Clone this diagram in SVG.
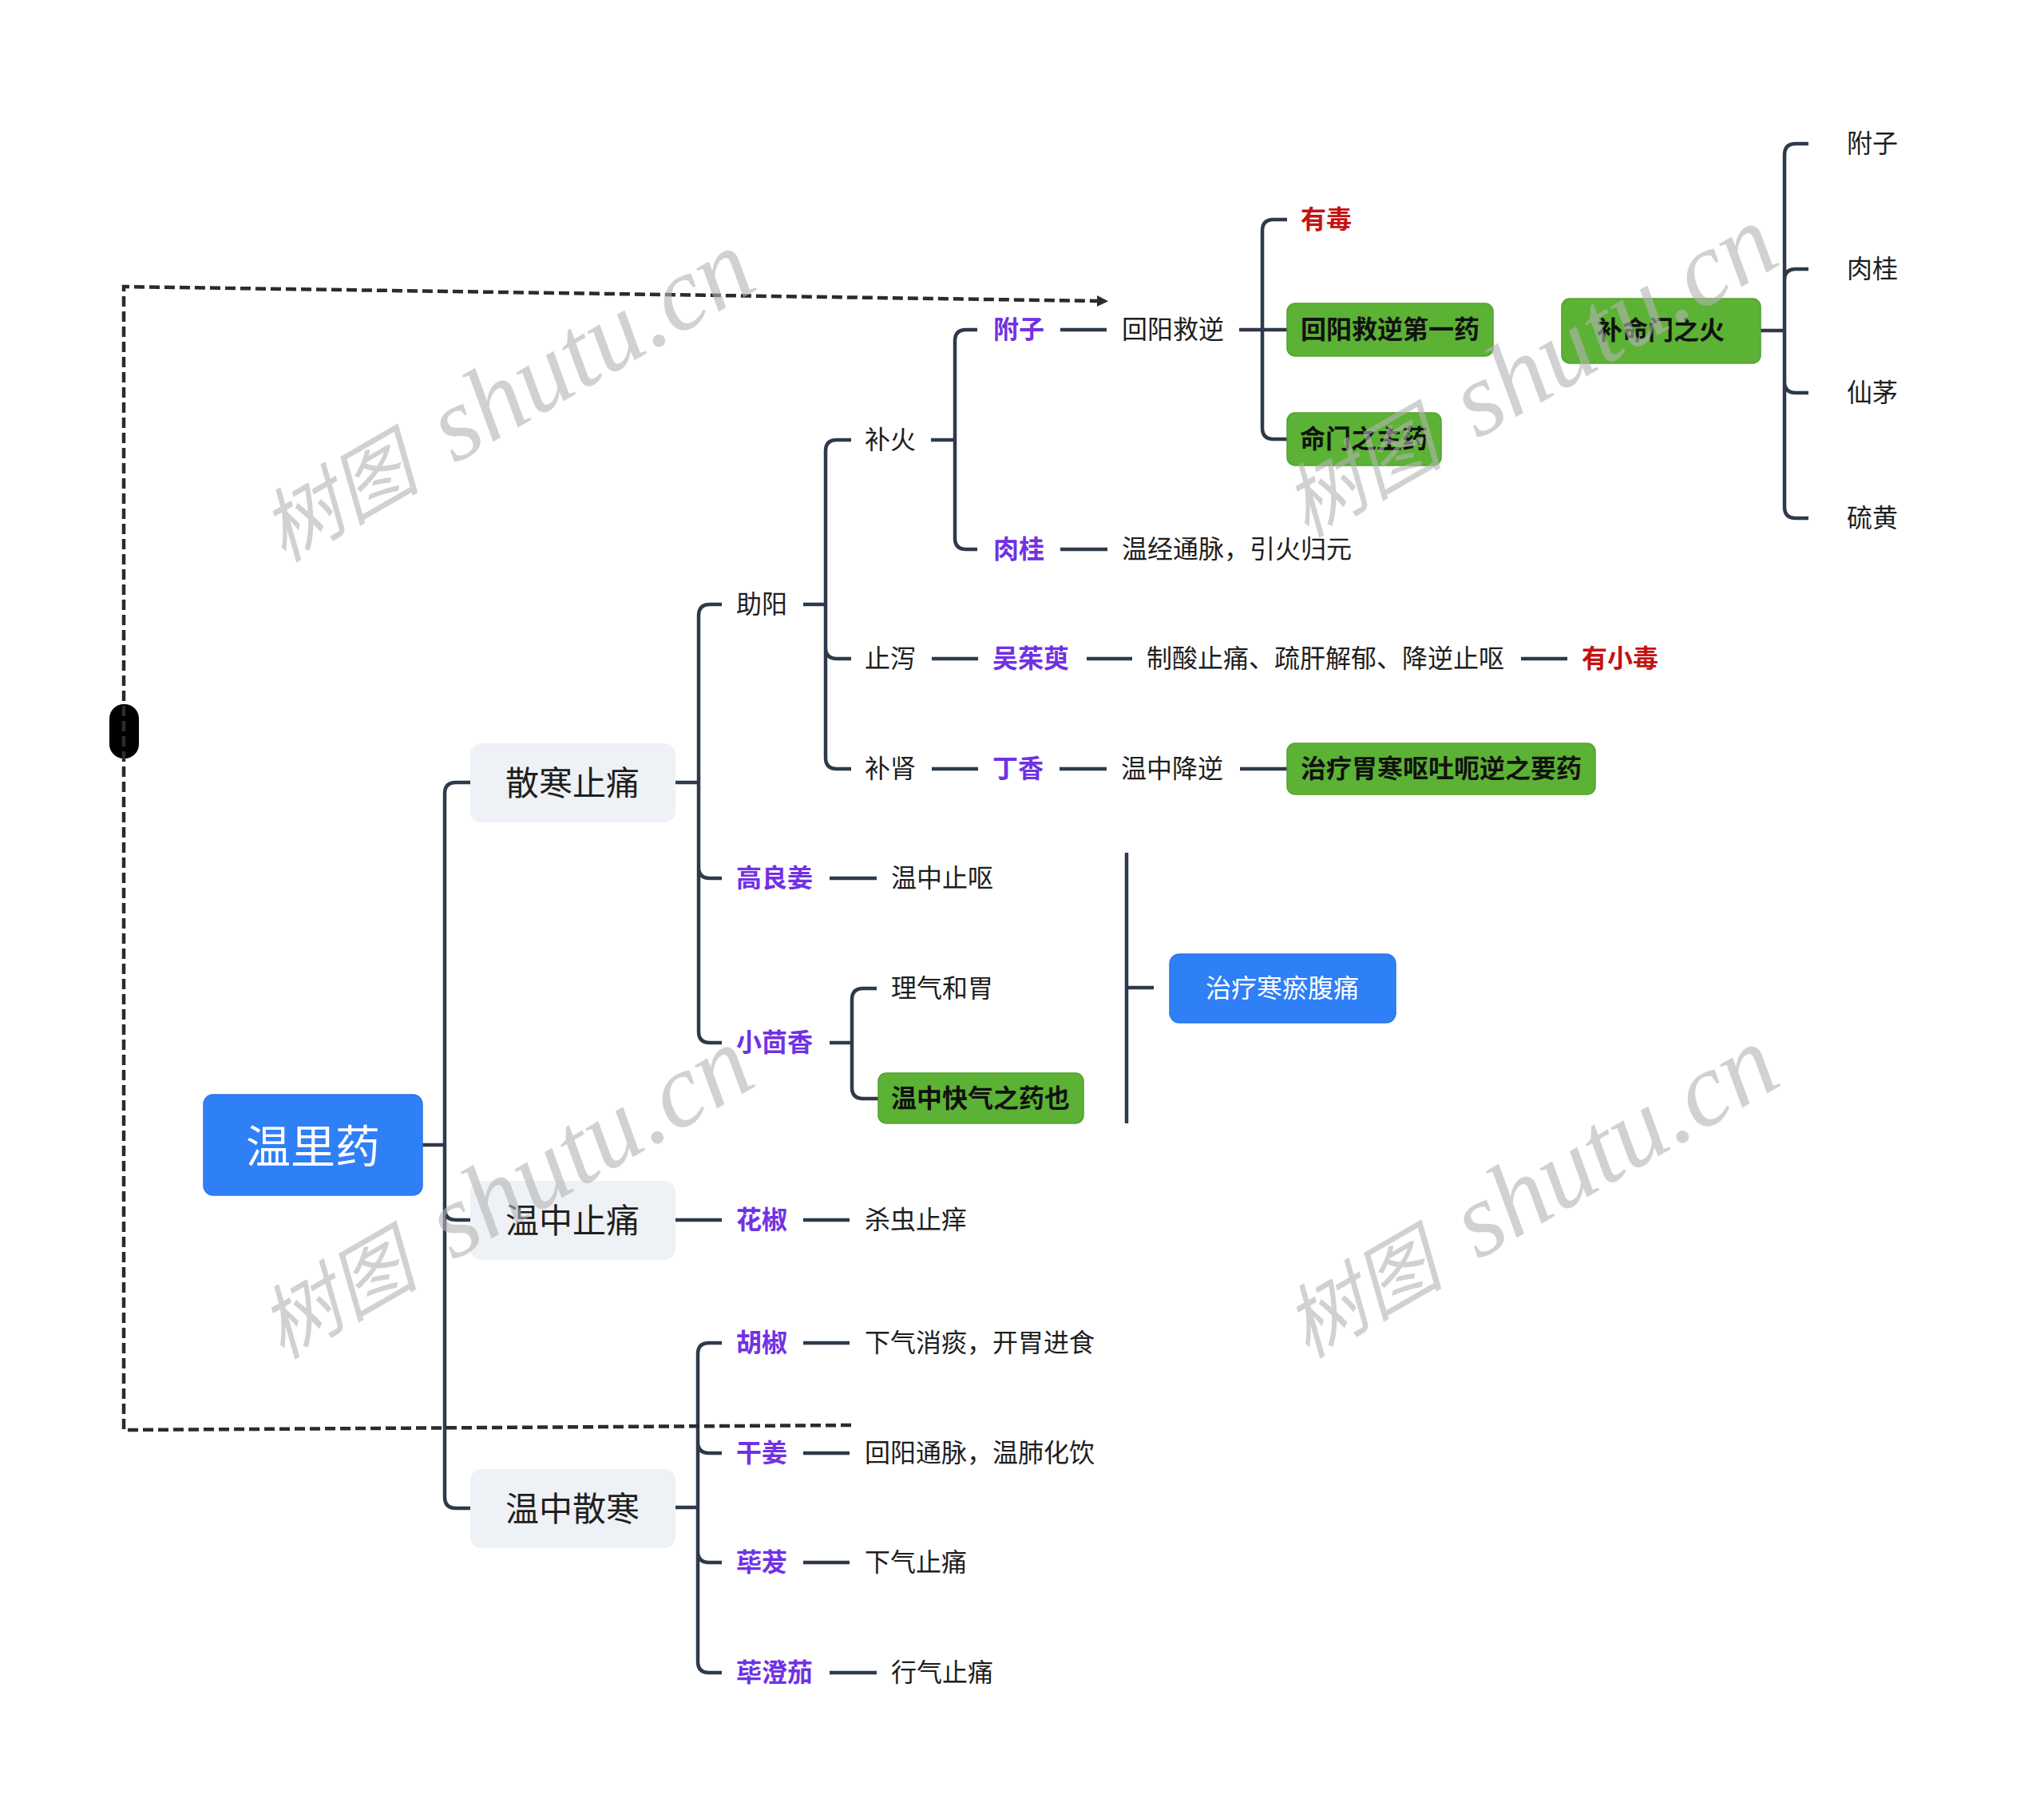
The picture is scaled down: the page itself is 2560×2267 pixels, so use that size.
<svg xmlns="http://www.w3.org/2000/svg" width="2560" height="2267" viewBox="0 0 2560 2267">
<style>
.ln{fill:none;stroke:#2e3a4b;stroke-width:4.5;stroke-linecap:butt;stroke-linejoin:round}
.dl{fill:none;stroke:#2b2b2b;stroke-width:4.5;stroke-dasharray:13 6}
.t{font-family:"Noto Sans CJK SC","Noto Sans",sans-serif;font-size:32px;fill:#1e1e1e;dominant-baseline:central;transform:translateY(-3px)}
.p{fill:#7131e4;font-weight:700}
.r{fill:#c41212;font-weight:700}
.c{text-anchor:middle}
.bd{font-weight:700;fill:#111}
.l1{font-size:42px;fill:#1f1f1f}
.w{fill:#ffffff}
.gbox{fill:#5cb234;stroke:#51a12d;stroke-width:1.5}
.gray{fill:#eef1f5}
.blue{fill:#2f7ff7;stroke:#2b75e8;stroke-width:1.5}
.wm{font-family:"Noto Sans CJK SC",serif;font-style:italic;fill:#b4b4b4;opacity:0.6}
.wml{font-family:"Liberation Serif",serif;font-style:italic}
</style>
<defs>
<marker id="arr" viewBox="0 0 10 10" refX="0" refY="5" markerWidth="14" markerHeight="14" markerUnits="userSpaceOnUse" orient="auto">
<path d="M0 0 L10 5 L0 10 z" fill="#2b2b2b"/>
</marker>
</defs>
<rect width="2560" height="2267" fill="#ffffff"/>

<g id="connectors">
<path class="ln" d="M529 1434 H557 M557 1434 V994 Q557 980 571 980 H589 M557 1434 V1514 Q557 1528 571 1528 H589 M557 1434 V1875 Q557 1889 571 1889 H589"/>
<path class="ln" d="M846 980 H875 M875 980 V771 Q875 757 889 757 H904 M875 980 V1086 Q875 1100 889 1100 H904 M875 980 V1292 Q875 1306 889 1306 H904"/>
<path class="ln" d="M1006 757 H1034 M1034 757 V565 Q1034 551 1048 551 H1066 M1034 757 V811 Q1034 825 1048 825 H1066 M1034 757 V949 Q1034 963 1048 963 H1066"/>
<path class="ln" d="M1166 551 H1196 M1196 551 V427 Q1196 413 1210 413 H1224 M1196 551 V674 Q1196 688 1210 688 H1224"/>
<path class="ln" d="M1328 413 H1386 M1552 413 H1612 M1581 413 V289 Q1581 275 1595 275 H1612 M1581 413 V536 Q1581 550 1595 550 H1612"/>
<path class="ln" d="M1328 688 H1387"/>
<path class="ln" d="M2205 414 H2235 M2235 414 V194 Q2235 180 2249 180 H2265 M2235 414 V351 Q2235 337 2249 337 H2265 M2235 414 V478 Q2235 492 2249 492 H2265 M2235 414 V635 Q2235 649 2249 649 H2265"/>
<path class="ln" d="M1167 825 H1225 M1361 825 H1418 M1905 825 H1963"/>
<path class="ln" d="M1167 963 H1225 M1327 963 H1386 M1553 963 H1612"/>
<path class="ln" d="M1039 1100 H1098"/>
<path class="ln" d="M1039 1306 H1067 M1067 1306 V1252 Q1067 1238 1081 1238 H1098 M1067 1306 V1362 Q1067 1376 1081 1376 H1100"/>
<path class="ln" d="M1411 1068 V1407 M1411 1237 H1445"/>
<path class="ln" d="M846 1528 H904 M1006 1528 H1064"/>
<path class="ln" d="M846 1888 H874 M874 1888 V1696 Q874 1682 888 1682 H904 M874 1888 V1806 Q874 1820 888 1820 H904 M874 1888 V1943 Q874 1957 888 1957 H904 M874 1888 V2081 Q874 2095 888 2095 H904"/>
<path class="ln" d="M1006 1682 H1064 M1006 1820 H1064 M1006 1957 H1064 M1039 2095 H1098"/>
<rect x="137" y="882" width="37" height="68" rx="18" fill="#000000"/>
<path class="dl" d="M1066 1785 L155 1791 L155 359 L1374 377" marker-end="url(#arr)"/>
</g>

<g id="n-root"><rect class="blue" x="255" y="1371" width="274" height="126" rx="12"/><text class="t c w" x="392" y="1434" style="font-size:56px">温里药</text></g>

<g id="n-sanhan"><rect class="gray" x="589" y="931" width="257" height="99" rx="14"/><text class="t c l1" x="717" y="980">散寒止痛</text></g>
<g id="n-wenzhongzhitong"><rect class="gray" x="589" y="1479" width="257" height="99" rx="14"/><text class="t c l1" x="717" y="1528">温中止痛</text></g>
<g id="n-wenzhongsanhan"><rect class="gray" x="589" y="1840" width="257" height="99" rx="14"/><text class="t c l1" x="717" y="1889">温中散寒</text></g>

<g id="n-zhuyang"><text class="t" x="922" y="757">助阳</text></g>
<g id="n-buhuo"><text class="t" x="1083" y="551">补火</text></g>
<g id="n-zhixie"><text class="t" x="1083" y="825">止泻</text></g>
<g id="n-bushen"><text class="t" x="1083" y="963">补肾</text></g>

<g id="n-fuzi"><text class="t p" x="1244" y="413">附子</text></g>
<g id="n-huiyang"><text class="t" x="1405" y="413">回阳救逆</text></g>
<g id="n-youdu"><text class="t r" x="1629" y="275">有毒</text></g>
<g id="n-diyi"><rect class="gbox" x="1612" y="380" width="258" height="66" rx="10"/><text class="t c bd" x="1741" y="413">回阳救逆第一药</text></g>
<g id="n-mingmen"><rect class="gbox" x="1612" y="517" width="193" height="66" rx="10"/><text class="t c bd" x="1708" y="550">命门之主药</text></g>

<g id="n-rougui"><text class="t p" x="1244" y="688">肉桂</text></g>
<g id="n-wenjing"><text class="t" x="1405" y="688">温经通脉，引火归元</text></g>

<g id="n-buming"><rect class="gbox" x="1956" y="374" width="249" height="81" rx="10"/><text class="t c bd" x="2080" y="414">补命门之火</text></g>
<g id="n-b-fuzi"><text class="t" x="2313" y="180">附子</text></g>
<g id="n-b-rougui"><text class="t" x="2313" y="337">肉桂</text></g>
<g id="n-b-xianmao"><text class="t" x="2313" y="492">仙茅</text></g>
<g id="n-b-liuhuang"><text class="t" x="2313" y="649">硫黄</text></g>

<g id="n-wuzhuyu"><text class="t p" x="1243" y="825">吴茱萸</text></g>
<g id="n-zhisuan"><text class="t" x="1436" y="825">制酸止痛、疏肝解郁、降逆止呕</text></g>
<g id="n-youxiaodu"><text class="t r" x="1981" y="825">有小毒</text></g>

<g id="n-dingxiang"><text class="t p" x="1243" y="963">丁香</text></g>
<g id="n-wenzhongjiangni"><text class="t" x="1404" y="963">温中降逆</text></g>
<g id="n-weihan"><rect class="gbox" x="1612" y="931" width="386" height="64" rx="10"/><text class="t c bd" x="1805" y="963">治疗胃寒呕吐呃逆之要药</text></g>

<g id="n-gaoliangjiang"><text class="t p" x="922" y="1100">高良姜</text></g>
<g id="n-wenzhongzhiou"><text class="t" x="1116" y="1100">温中止呕</text></g>

<g id="n-xiaohuixiang"><text class="t p" x="922" y="1306">小茴香</text></g>
<g id="n-liqi"><text class="t" x="1116" y="1238">理气和胃</text></g>
<g id="n-kuaiqi"><rect class="gbox" x="1100" y="1344" width="257" height="63" rx="10"/><text class="t c bd" x="1228" y="1376">温中快气之药也</text></g>

<g id="n-hanyu"><rect class="blue" x="1465" y="1195" width="283" height="86" rx="12"/><text class="t c w" x="1606" y="1238">治疗寒瘀腹痛</text></g>

<g id="n-huajiao"><text class="t p" x="922" y="1528">花椒</text></g>
<g id="n-shachong"><text class="t" x="1083" y="1528">杀虫止痒</text></g>

<g id="n-hujiao"><text class="t p" x="922" y="1682">胡椒</text></g>
<g id="n-xiaqixiaotan"><text class="t" x="1083" y="1682">下气消痰，开胃进食</text></g>
<g id="n-ganjiang"><text class="t p" x="922" y="1820">干姜</text></g>
<g id="n-huiyangtongmai"><text class="t" x="1083" y="1820">回阳通脉，温肺化饮</text></g>
<g id="n-biba"><text class="t p" x="922" y="1957">荜茇</text></g>
<g id="n-xiaqizhitong"><text class="t" x="1083" y="1957">下气止痛</text></g>
<g id="n-bichengqie"><text class="t p" x="922" y="2095">荜澄茄</text></g>
<g id="n-xingqi"><text class="t" x="1116" y="2095">行气止痛</text></g>

<g id="watermarks">
<text class="wm" font-size="100" transform="translate(355 705) rotate(-30)">树图<tspan class="wml" font-size="132" dx="14"> shutu.cn</tspan></text>
<text class="wm" font-size="100" transform="translate(1636 674) rotate(-30)">树图<tspan class="wml" font-size="132" dx="14"> shutu.cn</tspan></text>
<text class="wm" font-size="100" transform="translate(353 1703) rotate(-30)">树图<tspan class="wml" font-size="132" dx="14"> shutu.cn</tspan></text>
<text class="wm" font-size="100" transform="translate(1637 1702) rotate(-30)">树图<tspan class="wml" font-size="132" dx="14"> shutu.cn</tspan></text>
</g>
</svg>
